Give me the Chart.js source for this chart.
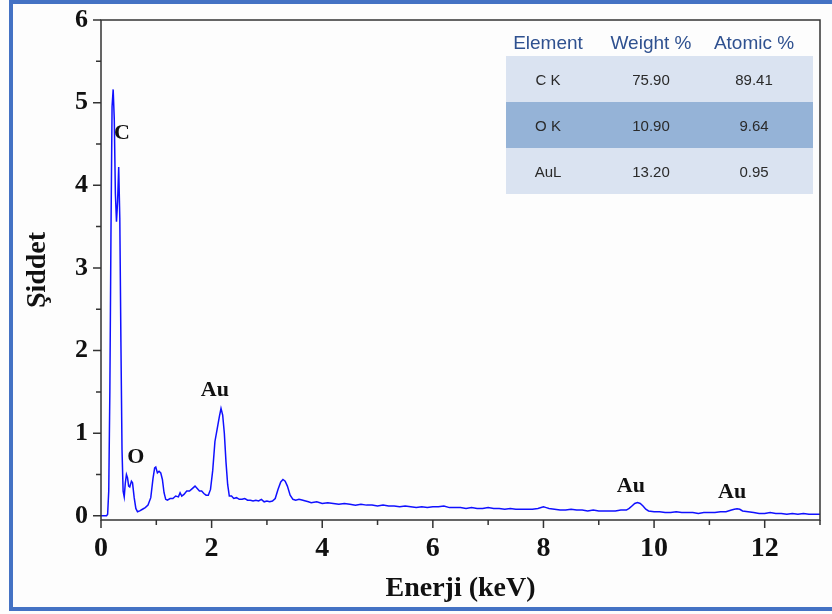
<!DOCTYPE html>
<html>
<head>
<meta charset="utf-8">
<title>EDS</title>
<script src="https://cdn.jsdelivr.net/npm/chart.js@4.4.1/dist/chart.umd.min.js"></script>
<style>
  html, body { margin: 0; padding: 0; background: #fdfdfd; overflow: hidden; }
  #wrap { position: relative; width: 832px; height: 614px; }
  #frame {
    position: absolute; left: 9px; top: 0; width: 840px; height: 611px;
    box-sizing: border-box; border: 4px solid #4472c4; pointer-events: none;
  }
  #tbl { position: absolute; left: 506px; top: 28px; width: 307px; font-family: "Liberation Sans", Arial, sans-serif; }
  .row { position: relative; height: 46px; }
  .row span { position: absolute; top: 50%; transform: translate(-50%, -50%); white-space: nowrap; }
  .head { height: 28px; color: #2f5190; font-size: 19px; }
  .head span { top: 15px; }
  .body { color: #2a2a2a; font-size: 15px; }
</style>
</head>
<body>
<div id="wrap">
  <canvas id="edsChart"></canvas>
  <div id="tbl"></div>
  <div id="frame"></div>
</div>
<script>
// Spektrum: enerji (keV) ve şiddet
const energy = [
  0.00, 0.05, 0.10, 0.12, 0.14, 0.16, 0.18, 0.20, 0.22, 0.24, 0.26, 0.28, 0.30, 0.32, 0.34, 0.36, 0.38, 0.40, 0.42, 0.44,
  0.46, 0.48, 0.50, 0.52, 0.55, 0.57, 0.60, 0.63, 0.66, 0.70, 0.75, 0.80, 0.85, 0.90, 0.94, 0.97, 0.99, 1.02, 1.05, 1.08,
  1.11, 1.14, 1.17, 1.20, 1.25, 1.30, 1.35, 1.40, 1.43, 1.46, 1.50, 1.55, 1.60, 1.65, 1.70, 1.74, 1.78, 1.82, 1.86, 1.90,
  1.94, 1.98, 2.02, 2.06, 2.10, 2.14, 2.17, 2.20, 2.23, 2.26, 2.29, 2.32, 2.36, 2.40, 2.45, 2.50, 2.55, 2.60, 2.65, 2.70,
  2.75, 2.80, 2.85, 2.90, 2.95, 3.00, 3.05, 3.10, 3.15, 3.20, 3.25, 3.29, 3.33, 3.37, 3.42, 3.47, 3.52, 3.58, 3.65, 3.70,
  3.75, 3.80, 3.90, 4.00, 4.10, 4.20, 4.30, 4.40, 4.50, 4.60, 4.70, 4.80, 4.90, 5.00, 5.10, 5.20, 5.30, 5.40, 5.50, 5.60,
  5.70, 5.80, 5.90, 6.00, 6.10, 6.20, 6.30, 6.40, 6.50, 6.60, 6.70, 6.80, 6.90, 7.00, 7.10, 7.20, 7.30, 7.40, 7.50, 7.60,
  7.70, 7.80, 7.90, 8.00, 8.05, 8.10, 8.20, 8.30, 8.40, 8.50, 8.60, 8.70, 8.80, 8.90, 9.00, 9.10, 9.20, 9.30, 9.40, 9.50,
  9.55, 9.60, 9.65, 9.70, 9.75, 9.80, 9.85, 9.90, 10.00, 10.10, 10.20, 10.30, 10.40, 10.50, 10.60, 10.70, 10.80, 10.90, 11.00, 11.10,
  11.20, 11.30, 11.40, 11.45, 11.50, 11.55, 11.60, 11.70, 11.80, 11.90, 12.00, 12.10, 12.20, 12.30, 12.40, 12.50, 12.60, 12.70, 12.80, 12.90,
  13.00
];
const intensity = [
  0.00, 0.00, 0.00, 0.02, 0.30, 1.50, 3.40, 4.95, 5.16, 4.80, 3.90, 3.56, 3.80, 4.22, 3.60, 2.10, 0.80, 0.30, 0.23, 0.40,
  0.50, 0.46, 0.36, 0.35, 0.42, 0.40, 0.22, 0.09, 0.05, 0.06, 0.08, 0.10, 0.13, 0.22, 0.45, 0.58, 0.59, 0.52, 0.54, 0.52,
  0.44, 0.28, 0.20, 0.19, 0.21, 0.21, 0.24, 0.23, 0.28, 0.24, 0.26, 0.30, 0.30, 0.33, 0.36, 0.33, 0.30, 0.30, 0.27, 0.25,
  0.25, 0.32, 0.55, 0.90, 1.05, 1.20, 1.30, 1.22, 1.00, 0.65, 0.38, 0.24, 0.24, 0.21, 0.22, 0.20, 0.20, 0.21, 0.19, 0.19,
  0.18, 0.19, 0.18, 0.20, 0.17, 0.18, 0.17, 0.18, 0.21, 0.32, 0.41, 0.44, 0.42, 0.36, 0.25, 0.20, 0.19, 0.20, 0.19, 0.18,
  0.17, 0.16, 0.17, 0.15, 0.16, 0.15, 0.14, 0.15, 0.14, 0.13, 0.14, 0.13, 0.13, 0.12, 0.13, 0.12, 0.12, 0.11, 0.12, 0.11,
  0.10, 0.11, 0.10, 0.11, 0.11, 0.12, 0.10, 0.10, 0.10, 0.09, 0.10, 0.09, 0.09, 0.10, 0.09, 0.09, 0.08, 0.09, 0.08, 0.08,
  0.08, 0.08, 0.09, 0.11, 0.10, 0.09, 0.08, 0.07, 0.07, 0.08, 0.07, 0.07, 0.06, 0.07, 0.06, 0.06, 0.06, 0.06, 0.07, 0.07,
  0.09, 0.12, 0.15, 0.16, 0.15, 0.12, 0.08, 0.06, 0.05, 0.05, 0.04, 0.04, 0.05, 0.04, 0.04, 0.04, 0.03, 0.04, 0.04, 0.04,
  0.05, 0.05, 0.07, 0.08, 0.085, 0.08, 0.06, 0.05, 0.04, 0.03, 0.03, 0.04, 0.03, 0.03, 0.02, 0.03, 0.02, 0.03, 0.02, 0.02,
  0.02
];

// Pik etiketleri (veri koordinatlarında)
const peakNames = ["C", "O", "Au", "Au", "Au"];
const peakE = [0.38, 0.63, 2.06, 9.58, 11.41];
const peakY = [4.63, 0.71, 1.52, 0.36, 0.28];

// Tablo verileri
const elements = ["C K", "O K", "AuL"];
const weightPct = [75.90, 10.90, 13.20];
const atomicPct = [89.41, 9.64, 0.95];

const serif = "'Liberation Serif', 'Times New Roman', serif";

// Tabloyu oluştur
const tbl = document.getElementById("tbl");
const colX = [42, 145, 248];
function addRow(cells, cls, bg) {
  const row = document.createElement("div");
  row.className = "row " + cls;
  if (bg) row.style.background = bg;
  cells.forEach((txt, i) => {
    const s = document.createElement("span");
    s.style.left = colX[i] + "px";
    s.textContent = txt;
    row.appendChild(s);
  });
  tbl.appendChild(row);
}
addRow(["Element", "Weight %", "Atomic %"], "head", null);
elements.forEach((el, i) => {
  addRow([el, weightPct[i].toFixed(2), atomicPct[i].toFixed(2)], "body", i === 1 ? "#95b3d7" : "#dae3f1");
});

// Çerçeve, tik çizgileri ve pik etiketleri
const framePlugin = {
  id: "framePlugin",
  afterDraw(chart) {
    const { ctx, chartArea: a, scales } = chart;
    const xs = scales.x, ys = scales.y;
    ctx.save();
    ctx.strokeStyle = "#333";
    ctx.lineWidth = 1.5;
    ctx.strokeRect(a.left, a.top, a.right - a.left, a.bottom - a.top);
    ctx.beginPath();
    for (let v = 0; v <= 13; v++) {
      const px = xs.getPixelForValue(v);
      ctx.moveTo(px, a.bottom);
      ctx.lineTo(px, a.bottom + (v % 2 === 0 ? 8 : 5));
    }
    for (let v = 0; v <= 6; v += 0.5) {
      const py = ys.getPixelForValue(v);
      ctx.moveTo(a.left, py);
      ctx.lineTo(a.left - (Number.isInteger(v) ? 8 : 5), py);
    }
    ctx.stroke();

    ctx.fillStyle = "#111";
    ctx.font = "bold 22px " + serif;
    ctx.textAlign = "center";
    ctx.textBaseline = "middle";
    peakNames.forEach((name, i) => {
      ctx.fillText(name, xs.getPixelForValue(peakE[i]), ys.getPixelForValue(peakY[i]));
    });
    ctx.restore();
  }
};

const chartData = {
  datasets: [{
    label: "Şiddet",
    data: energy.map((e, i) => ({ x: e, y: intensity[i] })),
    borderColor: "#1010ff",
    borderWidth: 1.5,
    pointRadius: 0,
    tension: 0,
    fill: false
  }]
};

new Chart(document.getElementById("edsChart"), {
  type: "line",
  data: chartData,
  options: {
    responsive: true,
    maintainAspectRatio: false,
    animation: false,
    layout: { padding: { top: 20, right: 12, left: 0, bottom: 0 } },
    plugins: { legend: { display: false }, tooltip: { enabled: false } },
    scales: {
      x: {
        type: "linear",
        min: 0,
        max: 13,
        grid: { display: false, drawTicks: false },
        border: { display: false },
        ticks: {
          stepSize: 1,
          padding: 12,
          color: "#111",
          font: { family: serif, size: 28, weight: "bold" },
          maxRotation: 0,
          autoSkip: false,
          callback: v => (v % 2 === 0 ? v : "")
        },
        title: {
          display: true,
          text: "Enerji (keV)",
          color: "#111",
          font: { family: serif, size: 28, weight: "bold" },
          padding: { top: 0, bottom: 8 }
        },
        afterFit: s => { s.height = 94; s.paddingLeft = 0; s.paddingRight = 0; }
      },
      y: {
        min: -0.05,
        max: 6,
        grid: { display: false, drawTicks: false },
        border: { display: false },
        ticks: {
          stepSize: 0.5,
          padding: 13,
          includeBounds: false,
          color: "#111",
          font: { family: serif, size: 26, weight: "bold" },
          autoSkip: false,
          callback: v => (Number.isInteger(v) ? v : "")
        },
        title: {
          display: true,
          text: "Şiddet",
          color: "#111",
          font: { family: serif, size: 28, weight: "bold" },
          padding: { top: 21, bottom: 0 }
        },
        afterFit: s => { s.width = 101; s.paddingTop = 0; s.paddingBottom = 0; }
      }
    }
  },
  plugins: [framePlugin]
});
</script>
</body>
</html>
